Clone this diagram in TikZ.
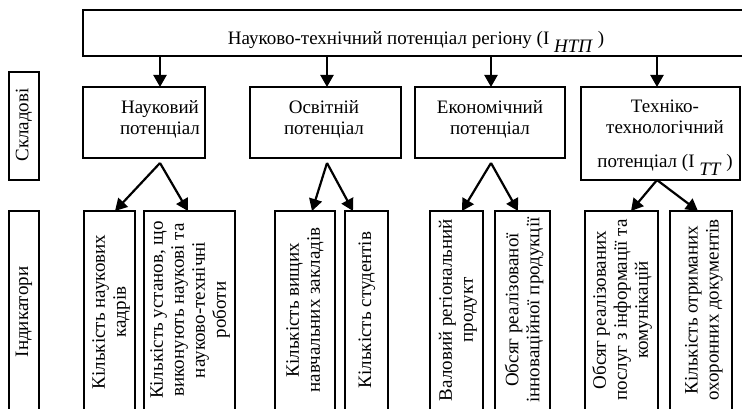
\documentclass[tikz,border=0pt]{standalone}
\usepackage{fontspec}
\setmainfont{Liberation Serif}
\usetikzlibrary{arrows.meta}
\begin{document}
\begin{tikzpicture}[x=1pt,y=-1pt,
  box/.style={draw,line width=1.6pt,anchor=north west,inner sep=0pt,outer sep=0pt},
  arr/.style={line width=2.2pt,-{Triangle[length=12pt,width=13pt]}},
  lbl/.style={font=\fontsize{19}{21}\selectfont,inner sep=0pt,align=center},
  vlbl/.style={lbl,rotate=90},
]
\useasboundingbox (0,0) rectangle (742,409);
\clip (0,0) rectangle (742,409);
% boxes
\node[box,minimum width=665pt,minimum height=46pt] (top) at (83,10) {};
\node[box,minimum width=30pt,minimum height=108pt] (skl) at (9,72) {};
\node[box,minimum width=30pt,minimum height=210pt] (ind) at (9,211) {};
\node[box,minimum width=122pt,minimum height=71pt] (n1) at (83,87) {};
\node[box,minimum width=151pt,minimum height=71pt] (n2) at (250,87) {};
\node[box,minimum width=150pt,minimum height=71pt] (n3) at (415,87) {};
\node[box,minimum width=159pt,minimum height=93pt] (n4) at (581,87) {};
\node[box,minimum width=51pt,minimum height=210pt] (i1) at (84,211) {};
\node[box,minimum width=91pt,minimum height=210pt] (i2) at (144,211) {};
\node[box,minimum width=60pt,minimum height=210pt] (i3) at (275,211) {};
\node[box,minimum width=43pt,minimum height=210pt] (i4) at (345,211) {};
\node[box,minimum width=53pt,minimum height=210pt] (i5) at (430,211) {};
\node[box,minimum width=55pt,minimum height=210pt] (i6) at (495,211) {};
\node[box,minimum width=73pt,minimum height=210pt] (i7) at (585,211) {};
\node[box,minimum width=62pt,minimum height=210pt] (i8) at (670,211) {};
% texts
\node[lbl,anchor=base] (ttop) at (416,45) {Науково-технічний потенціал регіону (I \raisebox{-8pt}{\textit{НТП}} )};
\node[vlbl] (tskl) at (24,125) {Складові};
\node[vlbl] (tind) at (24,312) {Індикатори};
\node[lbl] (tn1) at (160,119) {Науковий\\потенціал};
\node[lbl] (tn2) at (324,119) {Освітній\\потенціал};
\node[lbl] (tn3) at (490,119) {Економічний\\потенціал};
\node[lbl] (tn4) at (665,138) {Техніко-\\технологічний\\[13pt]потенціал (I \raisebox{-8pt}{\textit{ТТ}} )};
\node[vlbl] (ti1) at (111,312) {Кількість наукових\\кадрів};
\node[vlbl] (ti2) at (190,310) {Кількість установ, що\\виконують наукові та\\науково-технічні\\роботи};
\node[vlbl] (ti3) at (305,310) {Кількість вищих\\навчальних закладів};
\node[vlbl] (ti4) at (367,310) {Кількість студентів};
\node[vlbl] (ti5) at (458,310) {Валовий регіональний\\продукт};
\node[vlbl] (ti6) at (524,310) {Обсяг реалізованої\\інноваційної продукції};
\node[vlbl] (ti7) at (622,310) {Обсяг реалізованих\\послуг з інформації та\\комунікацій};
\node[vlbl] (ti8) at (704,310) {Кількість отриманих\\охоронних документів};
% apex coordinates
\coordinate (a1) at (160,163);
\coordinate (a2) at (327,163);
\coordinate (a3) at (491,163);
\coordinate (a4) at (657,180);
\coordinate (b1) at (115,211);
\coordinate (b2) at (188,211);
\coordinate (b3) at (312,211);
\coordinate (b4) at (353,211);
\coordinate (b5) at (462,211);
\coordinate (b6) at (518,211);
\coordinate (b7) at (631,211);
\coordinate (b8) at (698,211);
% arrows
\draw[arr] (top.south -| a1) -- (n1.north -| a1);
\draw[arr] (top.south -| a2) -- (n2.north -| a2);
\draw[arr] (top.south -| a3) -- (n3.north -| a3);
\draw[arr] (top.south -| a4) -- (n4.north -| a4);
\draw[arr] (a1) -- (b1);
\draw[arr] (a1) -- (b2);
\draw[arr] (a2) -- (b3);
\draw[arr] (a2) -- (b4);
\draw[arr] (a3) -- (b5);
\draw[arr] (a3) -- (b6);
\draw[arr] (a4) -- (b7);
\draw[arr] (a4) -- (b8);
\end{tikzpicture}
\end{document}
